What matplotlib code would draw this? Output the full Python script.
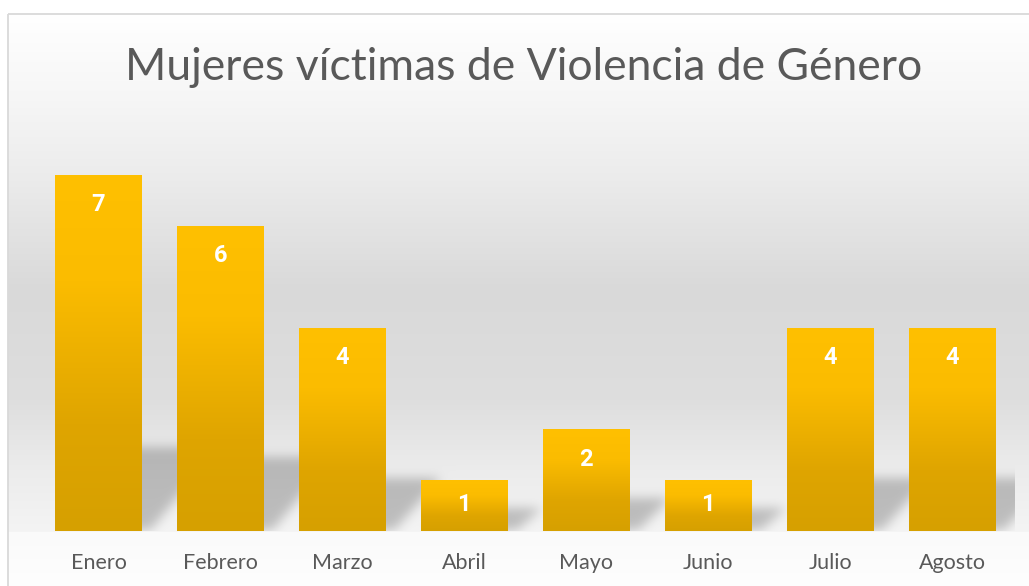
import numpy as np
import matplotlib
matplotlib.use("Agg")
import matplotlib.pyplot as plt
from matplotlib.patches import Rectangle
from matplotlib.colors import LinearSegmentedColormap

# ---- data ----
months = ["Enero", "Febrero", "Marzo", "Abril", "Mayo", "Junio", "Julio", "Agosto"]
victims = [7, 6, 4, 1, 2, 1, 4, 4]
title = "Mujeres víctimas de Violencia de Género"

W, H = 1029, 586
DPI = 100
plt.rcParams['font.family'] = ['Lato', 'DejaVu Sans']

fig = plt.figure(figsize=(W / DPI, H / DPI), dpi=DPI)
fig.patch.set_facecolor('white')

# main axes placement (figure fraction)
ax_left, ax_right = 37.5 / W, 1013 / W
ax_bottom, ax_top = (H - 531) / H, (H - 124) / H
ax = fig.add_axes([ax_left, ax_bottom, ax_right - ax_left, ax_top - ax_bottom])
ax.set_xlim(-0.5, len(months) - 0.5)
ax.set_ylim(0, 8)
ax.patch.set_alpha(0)
for s in ax.spines.values():
    s.set_visible(False)
ax.set_yticks([])
xs = np.arange(len(months))
ax.set_xticks(xs)
ax.set_xticklabels(months, fontsize=15.5, color='#595959')
ax.tick_params(axis='x', length=0, pad=16)

bw = 0.71
bars = ax.bar(xs, victims, width=bw, color='none', edgecolor='none', zorder=3)

# ---- background gradient + shadows (pixel space) ----
bg_ax = fig.add_axes([0, 0, 1, 1], zorder=-10)
bg_ax.set_xlim(0, W)
bg_ax.set_ylim(H, 0)
bg_ax.axis('off')

rows = np.arange(H)
stops_y = [13, 100, 180, 290, 400, 470, 531, 532, 586]
stops_v = [255, 246, 235, 217, 222, 236, 244, 250, 254]
gray = np.interp(rows, stops_y, stops_v) / 255.0
img = np.ones((H, W))
img[13:, 8:] = gray[13:, None]

# shadow mask
fig.canvas.draw()
mask = np.zeros((H, W))
plot_l = ax.transAxes.transform((0, 0))[0]
plot_r = ax.transAxes.transform((1, 0))[0]
for b in bars:
    (x0, y0), (x1, y1) = ax.transData.transform([(b.get_x(), 0), (b.get_x() + b.get_width(), b.get_height())])
    base = H - y0
    top = H - y1
    hpx = base - top
    sh = 12 + 0.2 * hpx
    shift = 0.7 * sh + 10
    r0 = int(base - sh)
    for r in range(r0, int(base) - 1):
        t = (base - r) / sh
        off = shift * t
        c0 = int(x0 + 6 + off)
        c1 = int(x1 + 8 + off)
        mask[r, max(c0, 0):min(c1, W)] = 1.0

def blur(a, sigma):
    rad = int(3 * sigma)
    k = np.exp(-0.5 * (np.arange(-rad, rad + 1) / sigma) ** 2)
    k /= k.sum()
    out = np.zeros_like(a)
    pad = np.pad(a, ((0, 0), (rad, rad)))
    for i, kv in enumerate(k):
        out += kv * pad[:, i:i + a.shape[1]]
    pad = np.pad(out, ((rad, rad), (0, 0)))
    out2 = np.zeros_like(a)
    for i, kv in enumerate(k):
        out2 += kv * pad[i:i + a.shape[0], :]
    return out2

mask = blur(mask, 5.5)
base_row = int(round(H - ax.transData.transform((0, 0))[1]))
mask[base_row:, :] = 0
mask[:, int(plot_r) + 2:] = 0
img = img * (1 - 0.22 * mask)
img[:13, :] = 1.0
img[:, :8] = 1.0
rgb = np.dstack([img, img, img])
bg_ax.imshow(rgb, extent=(0, W, H, 0), aspect='auto', interpolation='nearest', zorder=0)
# chart border
bg_ax.add_patch(Rectangle((7.5, 13.5), W + 20, H + 20, fill=False, edgecolor='#d9d9d9', linewidth=1.3, zorder=2))

# ---- bar gradient fill ----
cmap = LinearSegmentedColormap.from_list('bar', [(0, '#FFC000'), (0.3, '#FBBC00'), (0.7, '#DFA500'), (1.0, '#D6A000')])
grad = np.linspace(0, 1, 256)[:, None]
for b, v in zip(bars, victims):
    x0 = b.get_x()
    im = ax.imshow(grad, cmap=cmap, extent=(x0, x0 + b.get_width(), 0, v), origin='upper',
                   aspect='auto', zorder=3, interpolation='bilinear')
    im.set_clip_path(b)
    off = min(0.59, 0.48 * v)
    ax.text(b.get_x() + b.get_width() / 2, v - off, str(v), ha='center', va='center',
            color='white', fontsize=17, fontweight='bold', family=['Roboto', 'DejaVu Sans'], zorder=5)
ax.set_xlim(-0.5, len(months) - 0.5)
ax.set_ylim(0, 8)

fig.text((128 + 920) / 2 / W, 1 - 68 / H, title, ha='center', va='center', fontsize=32, color='#595959')

fig.savefig('out.png', dpi=DPI)
